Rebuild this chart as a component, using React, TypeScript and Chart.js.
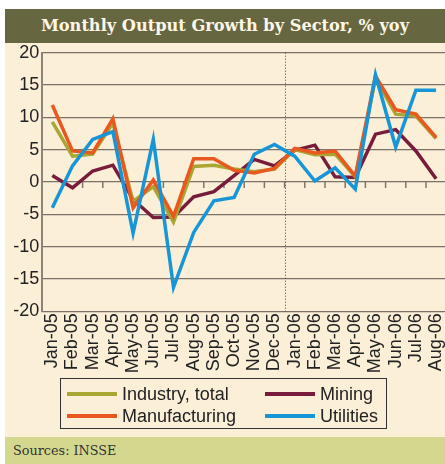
import React, { useEffect, useRef } from "react";
import { Chart, registerables } from "chart.js";

Chart.register(...registerables);

const months = [
  "Jan-05", "Feb-05", "Mar-05", "Apr-05", "May-05", "Jun-05", "Jul-05", "Aug-05", "Sep-05", "Oct-05",
  "Nov-05", "Dec-05", "Jan-06", "Feb-06", "Mar-06", "Apr-06", "May-06", "Jun-06", "Jul-06", "Aug-06",
];
const industry = [9.3, 4.0, 4.3, 9.1, -3.0, -0.7, -6.2, 2.4, 2.6, 2.0, 1.6, 2.0, 5.0, 4.2, 4.3, 0.8, 16.0, 10.5, 10.2, 6.7];
const manufacturing = [11.9, 4.8, 4.5, 9.8, -4.0, 0.3, -5.3, 3.6, 3.6, 1.8, 1.4, 2.1, 5.2, 4.5, 4.8, 0.9, 16.4, 11.2, 10.5, 6.9];
const mining = [1.0, -0.9, 1.7, 2.6, -2.7, -5.5, -5.4, -2.3, -1.5, 1.0, 3.5, 2.5, 4.9, 5.7, 0.8, 0.7, 7.4, 8.1, 4.8, 0.5];
const utilities = [-4.0, 2.5, 6.6, 7.8, -7.9, 6.6, -16.3, -7.8, -2.9, -2.4, 4.3, 5.8, 4.0, 0.15, 2.2, -1.1, 16.6, 5.4, 14.2, 14.2];
const yMin = -20;
const yMax = 20;
const yStep = 5;
const dividerAfter = "Dec-05";

const title = "Monthly Output Growth by Sector, % yoy";
const source = "Sources: INSSE";

const series = [
  { label: "Industry, total", data: industry, color: "#aaa634", order: 2 },
  { label: "Mining", data: mining, color: "#781c3c", order: 3 },
  { label: "Manufacturing", data: manufacturing, color: "#e9581f", order: 1 },
  { label: "Utilities", data: utilities, color: "#1696d6", order: 0 },
];

const AXIS_FONT = "'Liberation Sans', Arial, sans-serif";

const decorPlugin = {
  id: "decor",
  beforeDatasetsDraw(chart: any) {
    const { ctx, chartArea, scales } = chart;
    const x = scales.x;
    const y = scales.y;
    const y0 = y.getPixelForValue(0);
    ctx.save();
    ctx.strokeStyle = "#7d766c";
    ctx.lineWidth = 1.5;
    for (let i = 0; i < months.length - 1; i++) {
      const bx = (x.getPixelForValue(i) + x.getPixelForValue(i + 1)) / 2;
      ctx.beginPath();
      ctx.moveTo(bx, y0);
      ctx.lineTo(bx, y0 + 6);
      ctx.stroke();
    }
    const di = months.indexOf(dividerAfter);
    const dx = Math.round((x.getPixelForValue(di) + x.getPixelForValue(di + 1)) / 2) + 0.5;
    ctx.strokeStyle = "#444";
    ctx.lineWidth = 1;
    ctx.setLineDash([1, 2]);
    ctx.beginPath();
    ctx.moveTo(dx, chartArea.top);
    ctx.lineTo(dx, chartArea.bottom);
    ctx.stroke();
    ctx.restore();
  },
};

function ChartCanvas() {
  const ref = useRef<HTMLCanvasElement | null>(null);
  useEffect(() => {
    if (!ref.current) return;
    const chart = new Chart(ref.current, {
      type: "line",
      data: {
        labels: months,
        datasets: series.map((s) => ({
          label: s.label,
          data: s.data,
          borderColor: s.color,
          backgroundColor: s.color,
          borderWidth: 3.5,
          pointRadius: 0,
          tension: 0,
          order: s.order,
          borderJoinStyle: "miter" as const,
        })),
      },
      options: {
        animation: false,
        responsive: false,
        maintainAspectRatio: false,
        layout: { padding: { top: 52.7, right: 12.4, bottom: 0, left: 0 } },
        plugins: { legend: { display: false }, tooltip: { enabled: false }, title: { display: false } },
        scales: {
          x: {
            type: "category",
            offset: true,
            grid: { display: false, drawTicks: false },
            border: { display: false },
            ticks: {
              autoSkip: false,
              minRotation: 90,
              maxRotation: 90,
              padding: 2,
              color: "#222",
              font: { family: AXIS_FONT, size: 18 },
            },
            afterFit: (scale: any) => {
              scale.height = 464 - 311.3;
            },
          },
          y: {
            min: yMin,
            max: yMax,
            ticks: {
              stepSize: yStep,
              padding: 3,
              color: "#222",
              font: { family: AXIS_FONT, size: 18 },
            },
            grid: { color: "#7a7268", lineWidth: 1.2, drawTicks: false },
            border: { display: true, color: "#8b8377", width: 2 },
            afterFit: (scale: any) => {
              scale.width = 42.2;
            },
          },
        },
      },
      plugins: [decorPlugin],
    });
    return () => chart.destroy();
  }, []);
  return (
    <canvas
      ref={ref}
      width={460}
      height={464}
      style={{ position: "absolute", left: 0, top: 0, width: 460, height: 464 }}
    />
  );
}

function Legend() {
  return (
    <div
      style={{
        position: "absolute",
        left: 60,
        top: 378,
        width: 327,
        height: 51,
        border: "1px solid #333",
        boxSizing: "border-box",
        fontFamily: AXIS_FONT,
        fontSize: 18,
        color: "#222",
      }}
    >
      {series.map((s, i) => {
        const col = i % 2;
        const row = Math.floor(i / 2);
        return (
          <div
            key={s.label}
            style={{
              position: "absolute",
              left: col === 0 ? 6 : 204,
              top: row === 0 ? 5 : 27,
              height: 20,
              display: "flex",
              alignItems: "center",
              whiteSpace: "nowrap",
            }}
          >
            <span style={{ display: "inline-block", width: 50, height: 4, background: s.color, marginRight: 5 }} />
            <span>{s.label}</span>
          </div>
        );
      })}
    </div>
  );
}

export default function App() {
  return (
    <div
      style={{
        position: "absolute",
        left: 0,
        top: 0,
        width: 445,
        height: 464,
        overflow: "hidden",
        background: "#fff",
      }}
    >
      <div style={{ position: "absolute", left: 5, top: 43, width: 440, height: 394, background: "#fcefd8" }} />
      <div
        style={{
          position: "absolute",
          left: 5,
          top: 9,
          width: 440,
          height: 34,
          background: "#666641",
          color: "#fdf6e6",
          fontFamily: "'DejaVu Serif', serif",
          fontWeight: "bold",
          fontSize: 16.2,
          lineHeight: "34px",
          textAlign: "center",
          whiteSpace: "nowrap",
        }}
      >
        {title}
      </div>
      <div
        style={{
          position: "absolute",
          left: 5,
          top: 437,
          width: 440,
          height: 27,
          background: "#d4d78e",
          color: "#333",
          fontFamily: "'DejaVu Serif', serif",
          fontSize: 12.8,
          lineHeight: "27px",
          paddingLeft: 8,
          boxSizing: "border-box",
        }}
      >
        {source}
      </div>
      <ChartCanvas />
      <Legend />
    </div>
  );
}
